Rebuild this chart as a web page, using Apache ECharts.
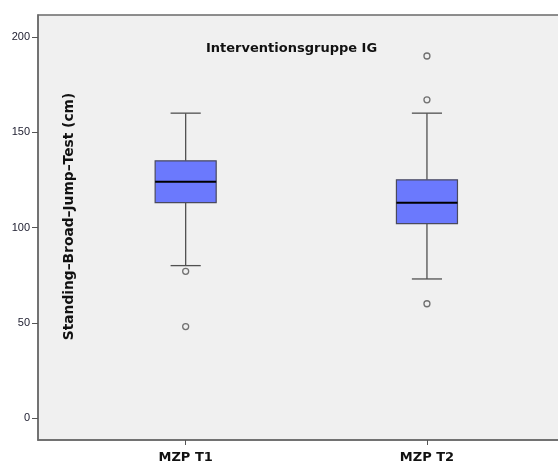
<!DOCTYPE html>
<html>
<head>
<meta charset="utf-8">
<script src="https://cdn.jsdelivr.net/npm/echarts@6/dist/echarts.min.js"></script>
<style>
  html, body { margin: 0; padding: 0; background: #ffffff; }
  #chart { width: 558px; height: 461px; }
</style>
</head>
<body>
<div id="chart"></div>
<script>
// Groups (measurement points) and their box statistics
const categories = ['MZP T1', 'MZP T2'];
const whiskerLow = [80, 73];
const quartile1 = [113, 102];
const medians = [124, 113];
const quartile3 = [135, 125];
const whiskerHigh = [160, 160];

// Outliers: group index and value
const outlierGroup = [0, 0, 1, 1, 1];
const outlierValue = [77, 48, 190, 167, 60];

// Y axis tick labels
const yTicks = [0, 50, 100, 150, 200];

const titleText = 'Interventionsgruppe IG';
const yTitle = 'Standing–Broad–Jump–Test (cm)';

const boxData = categories.map((c, i) => [i, whiskerLow[i], quartile1[i], medians[i], quartile3[i], whiskerHigh[i]]);
const outlierData = outlierGroup.map((g, i) => [g, outlierValue[i]]);

const FONT = 'DejaVu Sans';
const chart = echarts.init(document.getElementById('chart'), null, { renderer: 'canvas' });

function renderBox(params, api) {
  const x = api.value(0);
  const lo = api.coord([x, api.value(1)]);
  const b1 = api.coord([x, api.value(2)]);
  const md = api.coord([x, api.value(3)]);
  const b3 = api.coord([x, api.value(4)]);
  const hi = api.coord([x, api.value(5)]);
  const unit = api.size([1, 0])[0];
  const halfBox = unit * 0.1265;
  const halfCap = unit * 0.0625;
  const cx = lo[0];
  const lineStyle = { stroke: '#505050', lineWidth: 1.3 };
  return {
    type: 'group',
    children: [
      { type: 'line', shape: { x1: cx, y1: hi[1], x2: cx, y2: b3[1] }, style: lineStyle },
      { type: 'line', shape: { x1: cx, y1: b1[1], x2: cx, y2: lo[1] }, style: lineStyle },
      { type: 'line', shape: { x1: cx - halfCap, y1: hi[1], x2: cx + halfCap, y2: hi[1] }, style: lineStyle },
      { type: 'line', shape: { x1: cx - halfCap, y1: lo[1], x2: cx + halfCap, y2: lo[1] }, style: lineStyle },
      { type: 'rect', shape: { x: cx - halfBox, y: b3[1], width: halfBox * 2, height: b1[1] - b3[1] },
        style: { fill: '#6b79fd', stroke: '#4a4a5e', lineWidth: 1.2 } },
      { type: 'line', shape: { x1: cx - halfBox, y1: md[1], x2: cx + halfBox, y2: md[1] },
        style: { stroke: '#000000', lineWidth: 2 } }
    ]
  };
}

chart.setOption({
  animation: false,
  backgroundColor: '#ffffff',
  title: {
    text: titleText,
    left: 206,
    top: 42,
    padding: 0,
    textStyle: { fontFamily: FONT, fontWeight: 'bold', fontSize: 13, color: '#111111' }
  },
  grid: {
    left: 38, top: 15, right: -6, bottom: 21,
    containLabel: false,
    outerBoundsMode: 'none',
    show: true,
    backgroundColor: '#f0f0f0',
    borderColor: '#6a6a6a',
    borderWidth: 1.5
  },
  xAxis: {
    type: 'value',
    min: -0.612,
    max: 1.568,
    splitLine: { show: false },
    axisLine: { show: true, onZero: false, lineStyle: { color: '#6a6a6a', width: 1.5 } },
    axisTick: { show: true, length: 5, customValues: [0, 1], lineStyle: { color: '#555555' } },
    axisLabel: {
      customValues: [0, 1],
      formatter: v => categories[Math.round(v)],
      margin: 11,
      fontFamily: FONT, fontWeight: 'bold', fontSize: 13, color: '#111111'
    }
  },
  yAxis: {
    type: 'value',
    min: -11.5,
    max: 211.5,
    splitLine: { show: false },
    axisLine: { show: true, onZero: false, lineStyle: { color: '#6a6a6a', width: 1.5 } },
    axisTick: { show: true, length: 6, customValues: yTicks, lineStyle: { color: '#555555' } },
    axisLabel: {
      customValues: yTicks,
      margin: 8,
      fontFamily: 'Liberation Sans', fontSize: 11, color: '#222233'
    }
  },
  graphic: [{
    type: 'text',
    x: 69.7,
    y: 216.5,
    rotation: Math.PI / 2,
    style: {
      text: yTitle,
      fontFamily: FONT, fontWeight: 'bold', fontSize: 13.8, fill: '#111111',
      align: 'center', verticalAlign: 'middle'
    }
  }],
  series: [
    {
      type: 'custom',
      renderItem: renderBox,
      data: boxData,
      encode: { x: 0, y: [1, 2, 3, 4, 5] },
      z: 2
    },
    {
      type: 'scatter',
      data: outlierData,
      symbol: 'circle',
      symbolSize: 6,
      itemStyle: { color: 'rgba(0,0,0,0)', borderColor: '#505050', borderWidth: 1.3 },
      z: 3
    }
  ]
});
</script>
</body>
</html>
